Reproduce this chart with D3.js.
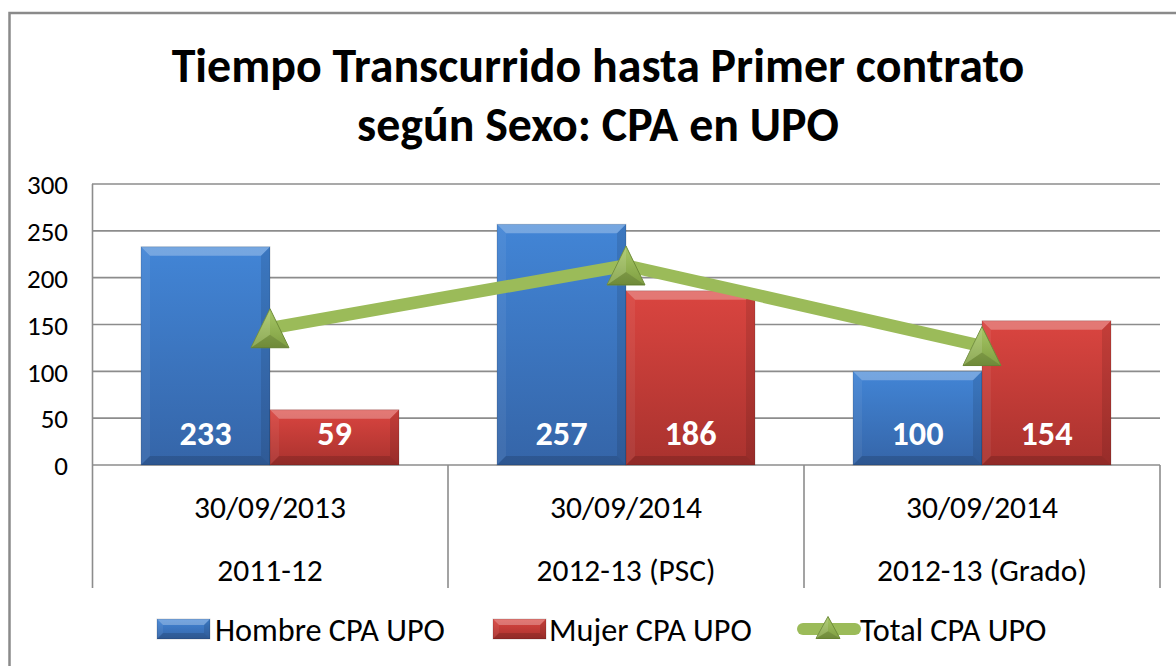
<!DOCTYPE html>
<html><head><meta charset="utf-8">
<script src="https://cdn.jsdelivr.net/npm/d3@7"></script>
<style>body{margin:0;background:#fff}svg{display:block}text{font-family:Carlito,Lato,"Liberation Sans",sans-serif}</style>
</head><body>
<svg id="c" width="1176" height="666"></svg>
<script>
const categories = ["2011-12", "2012-13 (PSC)", "2012-13 (Grado)"];
const dates = ["30/09/2013", "30/09/2014", "30/09/2014"];
const seriesNames = ["Hombre CPA UPO", "Mujer CPA UPO"];
const hombre = [233, 257, 100];
const mujer = [59, 186, 154];
const total = [146, 213, 127];
const yTicks = [0, 50, 100, 150, 200, 250, 300];
const titleLines = ["Tiempo Transcurrido hasta Primer contrato", "según Sexo: CPA en UPO"];
const lineName = "Total CPA UPO";

const svg = d3.select("#c");
const defs = svg.append("defs");
function grad(id, c1, c2){
  const g = defs.append("linearGradient").attr("id", id).attr("x1",0).attr("y1",0).attr("x2",0).attr("y2",1);
  g.append("stop").attr("offset","0%").attr("stop-color",c1);
  g.append("stop").attr("offset","100%").attr("stop-color",c2);
}
grad("gBlue", "#4285d6", "#3565a8");
grad("gRed", "#da4540", "#a9322e");
grad("gGreen", "#a7c866", "#7f9e42");

function fitSize(sample, fs, target){
  const t = svg.append("text").attr("font-size",fs).text(sample);
  const w = t.node().getComputedTextLength(); t.remove();
  return fs * target / w;
}
function fitBold(sample, fs, target){
  const t = svg.append("text").attr("font-size",fs).attr("font-weight","bold").text(sample);
  const w = t.node().getComputedTextLength(); t.remove();
  return fs * target / w;
}

// outer border
svg.append("rect").attr("x",9.5).attr("y",13).attr("width",1180).attr("height",700)
  .attr("fill","none").attr("stroke","#8a8a8a").attr("stroke-width",2.5);

// title
titleLines.forEach((t,i)=>{
  const fs = fitBold(t, 44, i===0?853:482);
  svg.append("text").attr("x",598).attr("y", i===0?82:141).attr("text-anchor","middle")
    .attr("font-weight","bold").attr("font-size",fs).attr("fill","#000").text(t);
});

const x0 = d3.scaleBand().domain(categories).range([92,1160]).paddingInner(0).paddingOuter(0);
const x1 = d3.scaleBand().domain(seriesNames).range([0, x0.bandwidth()]).paddingInner(0).paddingOuter(0.38);
const y = d3.scaleLinear().domain([0,300]).range([465,184]);

// gridlines
svg.append("g").selectAll("line").data(yTicks).join("line")
  .attr("x1",92).attr("x2",1160).attr("y1",d=>y(d)).attr("y2",d=>y(d))
  .attr("stroke","#8c8c8c").attr("stroke-width",1.6);

// y axis
const yfs = fitSize("300", 22, 41);
const yAxis = d3.axisLeft(y).tickValues(yTicks).tickSize(0).tickPadding(0);
const ga = svg.append("g").attr("transform","translate(68,0)").call(yAxis);
ga.select(".domain").remove();
ga.selectAll("text").attr("font-size",yfs).attr("fill","#000").attr("dy","0.36em")
  .style("font-family","Carlito,Lato,'Liberation Sans',sans-serif");

// axis lines and category separators
svg.append("line").attr("x1",92.5).attr("x2",92.5).attr("y1",184).attr("y2",588).attr("stroke","#8c8c8c").attr("stroke-width",1.6);
const seps = categories.map(c=>x0(c)+x0.bandwidth());
svg.append("g").selectAll("line").data(seps).join("line")
  .attr("x1",d=>d).attr("x2",d=>d).attr("y1",465).attr("y2",588).attr("stroke","#8c8c8c").attr("stroke-width",1.6);

// category labels
const cfs = fitSize(dates[0], 24, 152);
categories.forEach((c,i)=>{
  const cx = x0(c)+x0.bandwidth()/2;
  svg.append("text").attr("x",cx).attr("y",518).attr("text-anchor","middle").attr("font-size",cfs).text(dates[i]);
  svg.append("text").attr("x",cx).attr("y",581).attr("text-anchor","middle").attr("font-size",cfs).text(c);
});

// bevel bar
function bevelBar(g, x, yTop, w, h, fillId, b){
  b = Math.min(b, h/2, w/2);
  g.append("rect").attr("x",x).attr("y",yTop).attr("width",w).attr("height",h).attr("fill",`url(#${fillId})`);
  const poly = (pts, fill, op)=> g.append("polygon").attr("points", pts.map(p=>p.join(",")).join(" ")).attr("fill",fill).attr("opacity",op);
  poly([[x,yTop],[x+w,yTop],[x+w-b,yTop+b],[x+b,yTop+b]], "#ffffff", 0.28);
  poly([[x,yTop],[x+b,yTop+b],[x+b,yTop+h-b],[x,yTop+h]], "#ffffff", 0.06);
  poly([[x+w,yTop],[x+w,yTop+h],[x+w-b,yTop+h-b],[x+w-b,yTop+b]], "#000000", 0.10);
  poly([[x,yTop+h],[x+w,yTop+h],[x+w-b,yTop+h-b],[x+b,yTop+h-b]], "#000000", 0.14);
  g.append("rect").attr("x",x).attr("y",yTop).attr("width",w).attr("height",h).attr("fill","none")
    .attr("stroke","#000").attr("stroke-opacity",0.15).attr("stroke-width",1);
}

const barsG = svg.append("g");
const seriesData = [hombre, mujer];
const fills = ["gBlue","gRed"];
const dfs = fitBold("233", 32, 52);
categories.forEach((c,i)=>{
  seriesData.forEach((arr,j)=>{
    const bx = x0(c)+x1(seriesNames[j]);
    const w = x1.bandwidth();
    bevelBar(barsG, bx, y(arr[i]), w, y(0)-y(arr[i]), fills[j], 9);
    barsG.append("text").attr("x",bx+w/2).attr("y",445).attr("text-anchor","middle")
      .attr("font-weight","bold").attr("font-size",dfs).attr("fill","#fff").text(arr[i]);
  });
});

// total line
const lx = c => x0(c)+x0.bandwidth()/2;
const line = d3.line().x((d,i)=>lx(categories[i])).y(d=>y(d));
svg.append("path").attr("d", line(total)).attr("fill","none").attr("stroke","#9bbb59").attr("stroke-width",12.5).attr("stroke-linejoin","round");

function tri(g, cx, cy, w, h){
  const top=[cx,cy-h/2], bl=[cx-w/2,cy+h/2], br=[cx+w/2,cy+h/2];
  g.append("polygon").attr("points",[top,bl,br].map(p=>p.join(",")).join(" ")).attr("fill","url(#gGreen)")
    .attr("stroke","#6e8c38").attr("stroke-width",1);
  const c=[cx, cy+h/6];
  g.append("polygon").attr("points",[top,c,bl].map(p=>p.join(",")).join(" ")).attr("fill","#fff").attr("opacity",0.12);
  g.append("polygon").attr("points",[bl,c,br].map(p=>p.join(",")).join(" ")).attr("fill","#000").attr("opacity",0.12);
}
const mg = svg.append("g");
total.forEach((v,i)=> tri(mg, lx(categories[i]), y(v), 38, 39));

// legend
const lfs = fitSize(seriesNames[0], 24, 230);
const lg = svg.append("g");
bevelBar(lg, 157, 619, 53, 20, "gBlue", 6);
lg.append("text").attr("x",215).attr("y",641).attr("font-size",lfs).text(seriesNames[0]);
bevelBar(lg, 493, 619, 53, 20, "gRed", 6);
lg.append("text").attr("x",549).attr("y",641).attr("font-size",lfs).text(seriesNames[1]);
lg.append("line").attr("x1",803).attr("x2",855).attr("y1",629).attr("y2",629).attr("stroke","#9bbb59").attr("stroke-width",12).attr("stroke-linecap","round");
tri(lg, 828, 627.5, 24, 22);
lg.append("text").attr("x",860).attr("y",641).attr("font-size",lfs).text(lineName);
</script>
</body></html>
